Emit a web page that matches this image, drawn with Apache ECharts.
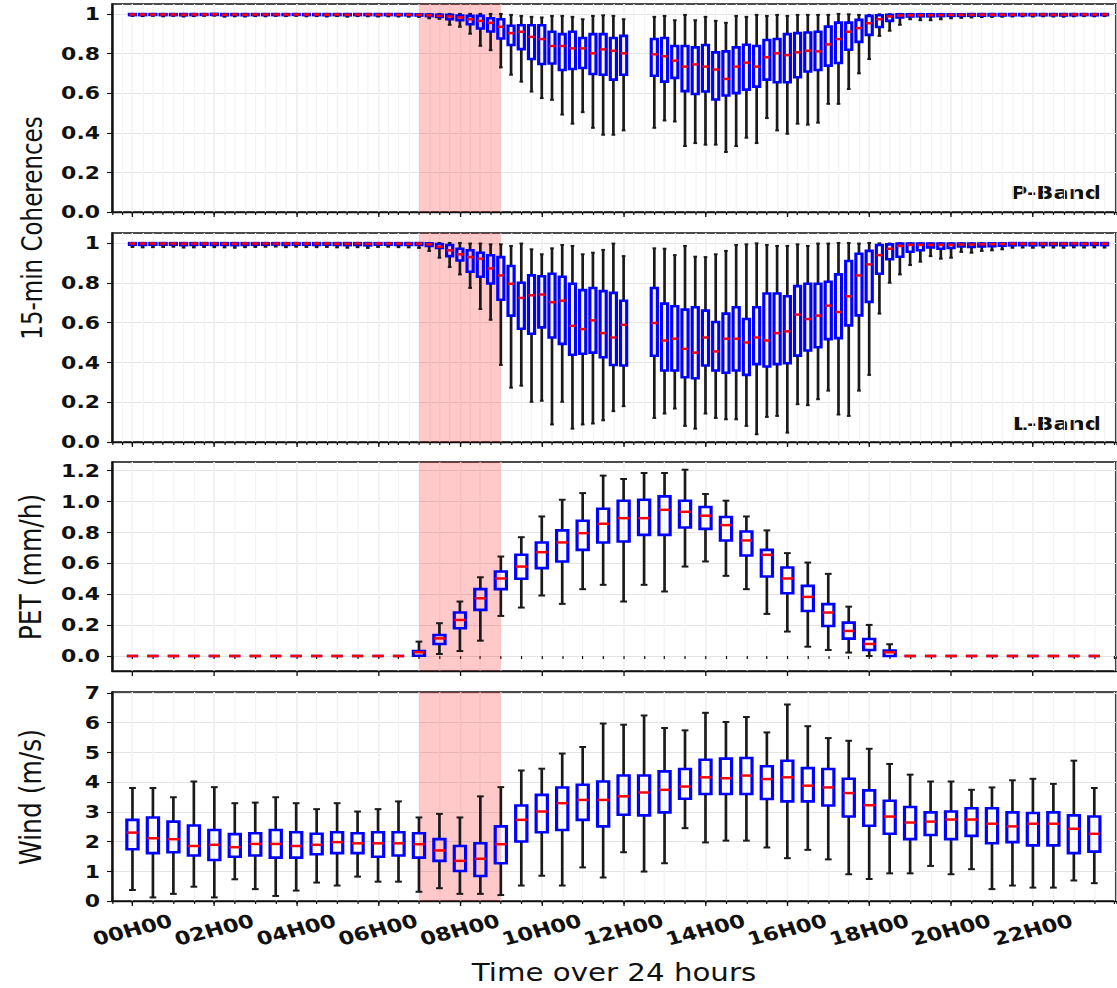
<!DOCTYPE html>
<html>
<head>
<meta charset="utf-8">
<script src="https://cdn.jsdelivr.net/npm/echarts@6/dist/echarts.min.js"></script>
<style>
  html, body { margin: 0; padding: 0; background: #fff; overflow: hidden; }
  #chart { height: 988px; transform-origin: 0 0; }
</style>
</head>
<body>
<div id="chart"></div>
<script>
// Hour ticks along the shared time axis
const hourTicks = [0, 2, 4, 6, 8, 10, 12, 14, 16, 18, 20, 22];
const hourLabels = ['00H00', '02H00', '04H00', '06H00', '08H00', '10H00',
                    '12H00', '14H00', '16H00', '18H00', '20H00', '22H00'];
// Highlighted morning window (hours)
const shadeWindow = [7, 9];

// 15-min coherence statistics: [lower whisker, Q1, median, Q3, upper whisker]
const pBandStats = [
  [0.990,0.994,0.997,0.999,1.000],[0.989,0.994,0.997,0.999,1.000],[0.990,0.995,0.997,0.999,1.000],[0.988,0.994,0.997,0.999,1.000],
  [0.990,0.994,0.997,0.999,1.000],[0.987,0.993,0.996,0.999,1.000],[0.989,0.994,0.997,0.999,1.000],[0.990,0.995,0.997,0.999,1.000],
  [0.991,0.995,0.998,1.000,1.000],[0.986,0.993,0.996,0.999,1.000],[0.988,0.994,0.997,0.999,1.000],[0.987,0.993,0.996,0.999,1.000],
  [0.989,0.994,0.997,0.999,1.000],[0.988,0.994,0.997,0.999,1.000],[0.990,0.994,0.997,0.999,1.000],[0.989,0.994,0.997,0.999,1.000],
  [0.990,0.995,0.997,0.999,1.000],[0.988,0.994,0.997,0.999,1.000],[0.989,0.994,0.997,0.999,1.000],[0.987,0.993,0.996,0.999,1.000],
  [0.989,0.994,0.997,0.999,1.000],[0.986,0.993,0.996,0.999,1.000],[0.989,0.994,0.997,0.999,1.000],[0.988,0.994,0.997,0.999,1.000],
  [0.987,0.993,0.996,0.999,1.000],[0.988,0.994,0.997,0.999,1.000],[0.987,0.993,0.996,0.999,1.000],[0.986,0.993,0.996,0.999,1.000],
  [0.985,0.992,0.995,0.998,1.000],[0.978,0.989,0.993,0.997,1.000],[0.975,0.985,0.990,0.996,1.000],[0.945,0.973,0.987,0.995,1.000],
  [0.935,0.968,0.982,0.992,1.000],[0.900,0.948,0.973,0.990,1.000],[0.839,0.926,0.965,0.990,1.000],[0.817,0.911,0.955,0.978,1.000],
  [0.730,0.876,0.935,0.973,1.000],[0.693,0.843,0.903,0.940,0.995],[0.658,0.822,0.910,0.943,0.990],[0.608,0.772,0.884,0.943,0.985],
  [0.575,0.747,0.873,0.943,0.982],[0.566,0.750,0.838,0.910,0.990],[0.492,0.717,0.838,0.898,0.990],[0.446,0.722,0.826,0.910,0.985],
  [0.504,0.727,0.826,0.878,0.973],[0.425,0.697,0.801,0.898,0.990],[0.390,0.693,0.821,0.898,0.993],[0.390,0.668,0.814,0.878,0.990],
  [0.412,0.693,0.801,0.889,0.973],null,null,[0.425,0.688,0.796,0.873,0.985],
  [0.462,0.658,0.786,0.878,0.990],[0.457,0.677,0.764,0.838,0.968],[0.333,0.610,0.734,0.838,0.995],[0.348,0.596,0.745,0.831,0.968],
  [0.340,0.608,0.734,0.843,0.985],[0.340,0.568,0.719,0.806,0.965],[0.303,0.588,0.672,0.811,0.955],[0.333,0.600,0.734,0.831,0.990],
  [0.375,0.618,0.754,0.844,0.985],[0.348,0.633,0.734,0.838,0.995],[0.474,0.668,0.781,0.868,0.990],[0.412,0.655,0.801,0.873,0.995],
  [0.395,0.655,0.792,0.898,0.990],[0.446,0.680,0.806,0.903,0.995],[0.441,0.709,0.814,0.906,0.995],[0.451,0.717,0.811,0.910,0.995],
  [0.546,0.739,0.846,0.936,0.995],[0.546,0.752,0.873,0.956,1.000],[0.621,0.819,0.910,0.956,0.998],[0.700,0.859,0.928,0.970,0.995],
  [0.772,0.894,0.953,0.990,0.995],[0.889,0.934,0.973,0.993,0.998],[0.915,0.965,0.987,0.995,0.998],[0.945,0.982,0.992,0.998,1.000],
  [0.973,0.987,0.993,0.998,1.000],[0.968,0.988,0.993,0.998,1.000],[0.968,0.988,0.993,0.998,1.000],[0.973,0.989,0.994,0.998,1.000],
  [0.978,0.990,0.995,0.998,1.000],[0.980,0.990,0.995,0.998,1.000],[0.982,0.991,0.995,0.999,1.000],[0.984,0.991,0.996,0.999,1.000],
  [0.985,0.992,0.996,0.999,1.000],[0.986,0.992,0.996,0.999,1.000],[0.987,0.993,0.996,0.999,1.000],[0.988,0.993,0.997,0.999,1.000],
  [0.987,0.993,0.996,0.999,1.000],[0.988,0.993,0.997,0.999,1.000],[0.987,0.993,0.996,0.999,1.000],[0.986,0.992,0.996,0.999,1.000],
  [0.988,0.993,0.997,0.999,1.000],[0.989,0.994,0.997,0.999,1.000],[0.988,0.993,0.997,0.999,1.000],[0.989,0.994,0.997,0.999,1.000]
];

const lBandStats = [
  [0.980,0.991,0.997,0.999,1.000],[0.978,0.990,0.997,0.999,1.000],[0.979,0.991,0.997,0.999,1.000],[0.980,0.991,0.997,0.999,1.000],
  [0.981,0.991,0.997,0.999,1.000],[0.977,0.989,0.996,0.999,1.000],[0.978,0.990,0.997,0.999,1.000],[0.980,0.991,0.997,0.999,1.000],
  [0.979,0.990,0.997,0.999,1.000],[0.978,0.990,0.996,0.999,1.000],[0.976,0.989,0.996,0.999,1.000],[0.979,0.990,0.997,0.999,1.000],
  [0.980,0.991,0.997,0.999,1.000],[0.981,0.991,0.997,0.999,1.000],[0.982,0.992,0.997,0.999,1.000],[0.979,0.990,0.997,0.999,1.000],
  [0.981,0.991,0.997,0.999,1.000],[0.980,0.991,0.997,0.999,1.000],[0.979,0.990,0.997,0.999,1.000],[0.980,0.991,0.997,0.999,1.000],
  [0.978,0.990,0.996,0.999,1.000],[0.976,0.989,0.996,0.999,1.000],[0.979,0.990,0.997,0.999,1.000],[0.975,0.988,0.996,0.999,1.000],
  [0.980,0.991,0.997,0.999,1.000],[0.981,0.991,0.997,0.999,1.000],[0.979,0.990,0.997,0.999,1.000],[0.978,0.990,0.996,0.999,1.000],
  [0.975,0.990,0.997,0.999,1.000],[0.960,0.985,0.993,0.998,1.000],[0.926,0.975,0.981,0.995,1.000],[0.879,0.934,0.963,0.990,1.000],
  [0.842,0.912,0.943,0.971,1.000],[0.774,0.855,0.929,0.963,0.997],[0.668,0.830,0.921,0.951,0.997],[0.614,0.796,0.872,0.938,0.993],
  [0.387,0.715,0.837,0.929,0.993],[0.273,0.635,0.795,0.884,0.985],[0.283,0.569,0.724,0.800,0.997],[0.202,0.544,0.737,0.837,0.968],
  [0.207,0.576,0.741,0.833,0.943],[0.088,0.525,0.702,0.845,0.973],[0.202,0.493,0.710,0.830,0.990],[0.067,0.438,0.584,0.795,0.985],
  [0.088,0.443,0.567,0.763,0.943],[0.093,0.449,0.611,0.774,0.951],[0.109,0.426,0.547,0.758,0.965],[0.155,0.387,0.525,0.749,0.997],
  [0.180,0.384,0.589,0.710,0.934],null,null,[0.121,0.433,0.598,0.774,0.973],
  [0.143,0.359,0.510,0.695,0.971],[0.168,0.359,0.519,0.682,0.939],[0.081,0.325,0.468,0.665,0.985],[0.067,0.320,0.449,0.677,0.931],
  [0.143,0.384,0.525,0.660,0.929],[0.121,0.359,0.455,0.603,0.943],[0.114,0.348,0.519,0.645,0.960],[0.114,0.359,0.519,0.677,0.990],
  [0.081,0.337,0.500,0.618,0.993],[0.039,0.391,0.525,0.677,0.998],[0.126,0.379,0.510,0.746,0.990],[0.131,0.391,0.547,0.746,0.985],
  [0.047,0.396,0.556,0.732,0.985],[0.190,0.434,0.640,0.783,0.993],[0.185,0.460,0.618,0.795,0.985],[0.215,0.476,0.635,0.795,0.997],
  [0.258,0.517,0.685,0.805,0.997],[0.138,0.522,0.653,0.842,1.000],[0.131,0.586,0.732,0.909,1.000],[0.258,0.636,0.837,0.946,0.997],
  [0.337,0.704,0.892,0.960,1.000],[0.645,0.845,0.939,0.990,0.998],[0.800,0.918,0.971,0.993,0.997],[0.842,0.931,0.985,0.997,0.998],
  [0.889,0.956,0.990,0.997,0.998],[0.906,0.963,0.990,0.997,0.998],[0.934,0.978,0.990,0.997,0.998],[0.921,0.971,0.990,0.997,0.998],
  [0.926,0.975,0.990,0.997,0.998],[0.955,0.982,0.992,0.997,0.999],[0.951,0.980,0.992,0.997,0.999],[0.960,0.983,0.993,0.997,0.999],
  [0.963,0.984,0.994,0.998,0.999],[0.968,0.986,0.995,0.998,1.000],[0.976,0.988,0.996,0.999,1.000],[0.977,0.989,0.996,0.999,1.000],
  [0.976,0.988,0.996,0.999,1.000],[0.978,0.989,0.996,0.999,1.000],[0.977,0.989,0.996,0.999,1.000],[0.976,0.988,0.996,0.999,1.000],
  [0.978,0.989,0.997,0.999,1.000],[0.977,0.989,0.996,0.999,1.000],[0.978,0.990,0.997,0.999,1.000],[0.977,0.989,0.996,0.999,1.000]
];

// Half-hourly potential evapotranspiration (mm/h)
const petStats = [
  [0,0,0,0,0],[0,0,0,0,0],[0,0,0,0,0],[0,0,0,0,0],[0,0,0,0,0],[0,0,0,0,0],[0,0,0,0,0],[0,0,0,0,0],
  [0,0,0,0,0],[0,0,0,0,0],[0,0,0,0,0],[0,0,0,0,0],[0,0,0,0,0],[0,0,0,0,0],
  [0.000,0.002,0.024,0.032,0.093],[0.013,0.078,0.114,0.136,0.212],[0.032,0.179,0.233,0.281,0.352],[0.099,0.298,0.373,0.432,0.509],
  [0.259,0.432,0.501,0.546,0.643],[0.313,0.499,0.578,0.654,0.768],[0.391,0.568,0.671,0.734,0.902],[0.337,0.611,0.734,0.812,1.010],
  [0.432,0.686,0.794,0.874,1.053],[0.460,0.734,0.855,0.952,1.166],[0.352,0.740,0.891,1.004,1.144],[0.460,0.783,0.891,1.010,1.183],
  [0.417,0.783,0.945,1.032,1.183],[0.578,0.831,0.932,1.004,1.204],[0.611,0.822,0.907,0.963,1.047],[0.518,0.747,0.846,0.898,1.004],
  [0.432,0.650,0.747,0.805,0.902],[0.272,0.514,0.654,0.686,0.812],[0.158,0.406,0.501,0.572,0.665],[0.060,0.291,0.382,0.453,0.604],
  [0.039,0.194,0.281,0.335,0.531],[0.022,0.112,0.162,0.216,0.319],[0.000,0.039,0.078,0.110,0.201],[0.000,0.000,0.024,0.035,0.076],
  [0,0,0,0,0],[0,0,0,0,0],[0,0,0,0,0],[0,0,0,0,0],[0,0,0,0,0],[0,0,0,0,0],[0,0,0,0,0],[0,0,0,0,0],
  [0,0,0,0,0],[0,0,0,0,0]
];

// Half-hourly wind speed (m/s)
const windStats = [
  [0.37,1.74,2.30,2.73,3.80],[0.12,1.61,2.11,2.81,3.80],[0.24,1.64,2.08,2.67,3.49],[0.48,1.53,1.85,2.54,4.02],
  [0.12,1.38,1.89,2.39,3.83],[0.73,1.49,1.81,2.25,3.29],[0.40,1.53,1.92,2.28,3.31],[0.17,1.46,1.92,2.39,3.49],
  [0.35,1.46,1.85,2.31,3.29],[0.62,1.57,1.89,2.26,3.09],[0.52,1.61,1.98,2.31,3.29],[0.82,1.61,1.94,2.28,3.01],
  [0.65,1.49,1.94,2.31,3.09],[0.65,1.53,1.94,2.31,3.35],[0.31,1.46,1.91,2.28,2.81],[0.43,1.35,1.70,2.08,2.93],
  [0.24,1.01,1.35,1.85,2.81],[0.24,0.84,1.42,1.94,3.52],[0.20,1.27,1.91,2.51,3.83],[0.52,2.00,2.73,3.21,4.39],
  [0.85,2.31,3.01,3.57,4.45],[0.52,2.39,3.29,3.82,4.96],[1.13,2.73,3.40,3.91,5.18],[0.79,2.51,3.40,4.02,5.97],
  [1.64,2.90,3.52,4.22,5.93],[0.99,2.88,3.65,4.22,6.24],[1.27,2.98,3.74,4.36,5.82],[2.45,3.44,3.85,4.44,5.74],
  [1.97,3.60,4.16,4.75,6.33],[2.03,3.60,4.13,4.79,6.02],[2.03,3.60,4.22,4.81,6.19],[1.80,3.43,4.10,4.53,5.67],
  [1.44,3.35,4.16,4.72,6.61],[1.72,3.35,3.88,4.47,5.88],[1.40,3.21,3.82,4.44,5.48],[0.90,2.84,3.63,4.11,5.39],
  [0.74,2.53,3.22,3.72,5.12],[0.93,2.26,2.84,3.37,4.61],[0.93,2.08,2.64,3.16,4.25],[1.18,2.22,2.67,2.98,4.02],
  [0.90,2.08,2.74,3.01,4.02],[1.07,2.19,2.74,3.12,3.74],[0.40,1.94,2.60,3.12,3.82],[0.52,1.98,2.51,2.98,4.06],
  [0.45,1.87,2.60,2.96,4.11],[0.45,1.87,2.60,2.98,3.94],[0.69,1.61,2.43,2.88,4.72],[0.60,1.66,2.26,2.84,3.80]
];

const FONT = 'DejaVu Sans';
const X_MIN = -0.5, X_MAX = 24.03;

// The figure is drawn narrower and widened with a horizontal scale,
// so horizontal layout values are given in final page pixels and divided here.
const STRETCH = 1.22;
const hx = v => v / STRETCH;
const chartEl = document.getElementById('chart');
chartEl.style.width = hx(1117) + 'px';
chartEl.style.transform = 'scaleX(' + STRETCH + ')';

const panels = [
  { top: 4,   height: 208, ymin: 0, ymax: 1.05, yticks: [0, 0.2, 0.4, 0.6, 0.8, 1],
    fmt: v => (v === 1 ? '1' : v.toFixed(1)), minor: 0.25, step: 0.25, stats: pBandStats, boxFrac: 0.6 },
  { top: 233, height: 209, ymin: 0, ymax: 1.05, yticks: [0, 0.2, 0.4, 0.6, 0.8, 1],
    fmt: v => (v === 1 ? '1' : v.toFixed(1)), minor: 0.25, step: 0.25, stats: lBandStats, boxFrac: 0.6 },
  { top: 462, height: 209, ymin: -0.097, ymax: 1.254, yticks: [0, 0.2, 0.4, 0.6, 0.8, 1.0, 1.2],
    fmt: v => v.toFixed(1), minor: 0.5, step: 0.5, stats: petStats, boxFrac: 0.55 },
  { top: 692, height: 209, ymin: 0, ymax: 7.03, yticks: [0, 1, 2, 3, 4, 5, 6, 7],
    fmt: v => String(v), minor: 0.5, step: 0.5, stats: windStats, boxFrac: 0.55 }
];

const grids = [], xAxes = [], yAxes = [], series = [];

panels.forEach((p, g) => {
  grids.push({ left: hx(112), width: hx(1004), top: p.top, height: p.height, show: true,
               containLabel: false, outerBoundsMode: 'none',
               borderColor: '#111', borderWidth: 1.4, backgroundColor: 'transparent' });

  const isLast = g === panels.length - 1;
  // major time axis (2-hourly ticks, labels on the last panel)
  xAxes.push({
    gridIndex: g, type: 'value', min: X_MIN, max: X_MAX, position: 'bottom',
    axisLine: { show: true, onZero: false, lineStyle: { color: '#111', width: 1.4 } },
    axisTick: { show: true, length: 5, customValues: hourTicks, lineStyle: { color: '#111', width: 1.1 } },
    axisLabel: {
      show: isLast, customValues: hourTicks,
      formatter: v => { const k = hourTicks.indexOf(Math.round(v)); return k >= 0 ? hourLabels[k] : ''; },
      rotate: 17, align: 'center', verticalAlign: 'middle', margin: 29,
      fontFamily: FONT, fontWeight: 'bold', fontSize: 18.5, color: '#111'
    },
    splitLine: { show: true, lineStyle: { color: '#e4e4e4', width: 1 } }
  });
  // minor time axis (15-min or 30-min ticks)
  xAxes.push({
    gridIndex: g, type: 'value', min: X_MIN, max: X_MAX, interval: p.minor, position: 'bottom',
    axisLine: { show: false }, axisLabel: { show: false },
    axisTick: { show: true, length: 3, lineStyle: { color: '#111', width: 1 } },
    splitLine: { show: true, lineStyle: { color: '#f3f3f3', width: 1 } }
  });

  yAxes.push({
    gridIndex: g, type: 'value', min: p.ymin, max: p.ymax,
    axisLine: { show: true, onZero: false, lineStyle: { color: '#111', width: 1.4 } },
    axisTick: { show: true, length: hx(5), customValues: p.yticks, lineStyle: { color: '#111', width: 1.1 } },
    axisLabel: { customValues: p.yticks, formatter: p.fmt, margin: hx(12),
                 fontFamily: FONT, fontWeight: 'bold', fontSize: 18, color: '#111' },
    splitLine: { show: true, lineStyle: { color: '#e4e4e4', width: 1 } }
  });

  // shaded morning window
  series.push({
    type: 'custom', xAxisIndex: g * 2, yAxisIndex: g, z: 1, silent: true,
    data: [shadeWindow], encode: { x: [0, 1] },
    renderItem: (params, api) => {
      const cs = params.coordSys;
      const a = api.coord([api.value(0), p.ymax]);
      const b = api.coord([api.value(1), p.ymax]);
      return { type: 'rect', shape: { x: a[0], y: cs.y, width: b[0] - a[0], height: cs.height },
               style: { fill: 'rgba(255,0,0,0.21)' } };
    }
  });

  // box-and-whisker marks
  const rows = [];
  p.stats.forEach((s, i) => { if (s) rows.push([i * p.step].concat(s)); });
  series.push({
    type: 'custom', xAxisIndex: g * 2, yAxisIndex: g, z: 5, silent: true,
    data: rows, encode: { x: 0, y: [1, 2, 3, 4, 5] },
    renderItem: (params, api) => {
      const x = api.value(0);
      const lo = api.coord([x, api.value(1)]);
      const q1 = api.coord([x, api.value(2)]);
      const md = api.coord([x, api.value(3)]);
      const q3 = api.coord([x, api.value(4)]);
      const hi = api.coord([x, api.value(5)]);
      const w = api.size([p.step, 0])[0] * p.boxFrac;
      const cx = lo[0], h = w / 2, c = w * 0.3;
      const stem = { stroke: '#1a1a1a', lineWidth: 2.2 };
      const cap = { stroke: '#1a1a1a', lineWidth: 2 };
      return { type: 'group', children: [
        { type: 'line', shape: { x1: cx, y1: q1[1], x2: cx, y2: lo[1] }, style: stem },
        { type: 'line', shape: { x1: cx, y1: q3[1], x2: cx, y2: hi[1] }, style: stem },
        { type: 'line', shape: { x1: cx - c, y1: lo[1], x2: cx + c, y2: lo[1] }, style: cap },
        { type: 'line', shape: { x1: cx - c, y1: hi[1], x2: cx + c, y2: hi[1] }, style: cap },
        { type: 'rect', shape: { x: cx - h, y: q3[1], width: w, height: q1[1] - q3[1] },
          style: { fill: 'none', stroke: '#0000ff', lineWidth: 2.6 } },
        { type: 'line', shape: { x1: cx - h, y1: md[1], x2: cx + h, y2: md[1] },
          style: { stroke: '#ff0000', lineWidth: 2.5 } }
      ] };
    }
  });
});

// Axis titles
const vTitle = (text, x, y, size) => ({
  type: 'text', x: hx(x), y: y, rotation: Math.PI / 2,
  style: { text: text, font: size + 'px "DejaVu Sans"', fill: '#111', align: 'center', verticalAlign: 'middle' }
});

const chart = echarts.init(chartEl, null, { renderer: 'svg' });
chart.setOption({
  animation: false,
  backgroundColor: '#fff',
  grid: grids, xAxis: xAxes, yAxis: yAxes, series: series,
  graphic: [
    vTitle('15-min Coherences', 32, 228, 23),
    vTitle('PET (mm/h)', 31, 567, 25),
    vTitle('Wind (m/s)', 31, 797, 25),
    { type: 'text', x: hx(614), y: 972,
      style: { text: 'Time over 24 hours', font: '24px "DejaVu Sans"', fill: '#111',
               align: 'center', verticalAlign: 'middle' } },
    { type: 'text', x: hx(1101), y: 193,
      style: { text: 'P-Band', font: 'bold 18.5px "DejaVu Sans"', fill: '#111',
               align: 'right', verticalAlign: 'middle' } },
    { type: 'text', x: hx(1101), y: 424,
      style: { text: 'L-Band', font: 'bold 18.5px "DejaVu Sans"', fill: '#111',
               align: 'right', verticalAlign: 'middle' } }
  ]
});
</script>
</body>
</html>
